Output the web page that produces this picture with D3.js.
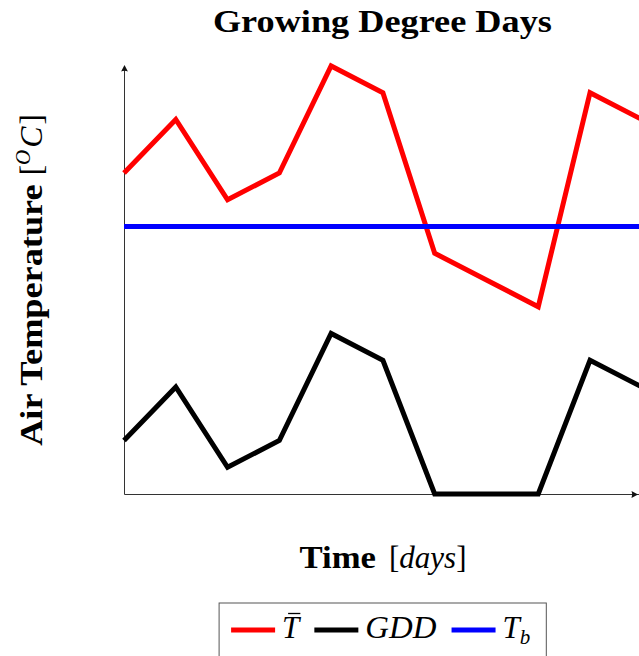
<!DOCTYPE html>
<html>
<head>
<meta charset="utf-8">
<script src="https://cdn.jsdelivr.net/npm/d3@7"></script>
<style>
  html, body { margin: 0; padding: 0; background: #fff; }
  svg { display: block; }
</style>
</head>
<body>
<script>
// Daily series (days 0..10)
const days     = [0, 1, 2, 3, 4, 5, 6, 7, 8, 9, 10];
const meanTemp = [12, 14, 11, 12, 16, 15, 9, 8, 7, 15, 14];  // mean air temperature
const gddDaily = [2, 4, 1, 2, 6, 5, 0, 0, 0, 5, 4];           // growing degree days
const baseTemp = 10;                                          // base temperature T_b
const tempDomain = [0, 16];

const SERIF = "'Liberation Serif', 'Times New Roman', serif";
const W = 639, H = 656;
const plot = { left: 124, right: 641.8, top: 66, bottom: 494 };
const axisColor = '#333';

const svg = d3.select('body').append('svg')
  .attr('width', W).attr('height', H)
  .attr('viewBox', `0 0 ${W} ${H}`);

const x = d3.scaleLinear().domain(d3.extent(days)).range([plot.left, plot.right]);
const y = d3.scaleLinear().domain(tempDomain).range([plot.bottom, plot.top]);

// Axis lines (no ticks) with arrow heads
svg.append('g')
  .attr('transform', `translate(0,${plot.bottom})`)
  .call(d3.axisBottom(x).tickValues([]).tickSizeOuter(0))
  .call(g => g.select('.domain').attr('stroke', axisColor).attr('stroke-width', 1));

svg.append('g')
  .attr('transform', `translate(${plot.left},0)`)
  .call(d3.axisLeft(y).tickValues([]).tickSizeOuter(0))
  .call(g => g.select('.domain').attr('stroke', axisColor).attr('stroke-width', 1));

const arrowHead = 'M0,0 L-3.4,6.5 Q0,4.8 3.4,6.5 Z';
svg.append('path')
  .attr('d', arrowHead)
  .attr('fill', '#111')
  .attr('transform', `translate(${plot.left + 0.5},${y.range()[1] - 1})`);
svg.append('path')
  .attr('d', arrowHead)
  .attr('fill', '#111')
  .attr('transform', `translate(638,${plot.bottom + 0.5}) rotate(90)`);

// Series lines
const lineGen = d3.line()
  .x((d, i) => x(days[i]))
  .y(d => y(d));

const series = [
  { key: 'mean', values: meanTemp, color: '#ff0000' },
  { key: 'gdd',  values: gddDaily, color: '#000000' },
  { key: 'base', values: days.map(() => baseTemp), color: '#0000ff' }
];

svg.append('g')
  .selectAll('path')
  .data(series)
  .join('path')
  .attr('d', d => lineGen(d.values))
  .attr('fill', 'none')
  .attr('stroke', d => d.color)
  .attr('stroke-width', 5)
  .attr('stroke-linejoin', 'miter')
  .attr('stroke-miterlimit', 10);

// Text built from pieces (bold / italic / raised / lowered), centred on (cx, cy)
function richText(parent, pieces, opts) {
  const g = parent.append('g');
  const inner = g.append('g');
  let cursor = 0;
  pieces.forEach(p => {
    const t = inner.append('text')
      .attr('x', 0)
      .attr('y', p.dy || 0)
      .attr('font-family', SERIF)
      .attr('font-size', p.size || 31)
      .attr('font-weight', p.bold ? 'bold' : 'normal')
      .attr('font-style', p.italic ? 'italic' : 'normal')
      .attr('fill', '#000')
      .text(p.text);
    const w = t.node().getComputedTextLength();
    const sx = p.sx || 1;
    t.attr('transform', `translate(${cursor},0) scale(${sx},1)`);
    cursor += w * sx + (p.after || 0);
  });
  inner.attr('transform', `translate(${-cursor / 2},0)`);
  g.attr('transform', `translate(${opts.x},${opts.y}) rotate(${opts.rotate || 0})`);
  return cursor;
}

const plotCenter = (plot.left + 639) / 2;

// Title
richText(svg, [
  { text: 'Growing Degree Days', bold: true, size: 31, sx: 1.17 }
], { x: plotCenter + 1, y: 32 });

// X label
richText(svg, [
  { text: 'Time', bold: true, size: 31, sx: 1.12, after: 13 },
  { text: '[', size: 31 },
  { text: 'days', italic: true, size: 31 },
  { text: ']', size: 31 }
], { x: plotCenter + 1.5, y: 568 });

// Y label
richText(svg, [
  { text: 'Air Temperature', bold: true, size: 31, sx: 1.17, after: 9 },
  { text: '[', size: 31 },
  { text: 'O', italic: true, size: 21, dy: -12, after: 2 },
  { text: 'C', italic: true, size: 31, sx: 1.03, after: 2 },
  { text: ']', size: 31 }
], { x: 42, y: (plot.top + plot.bottom) / 2, rotate: -90 });

// Legend
const legendEntries = [
  { key: 'mean', color: '#ff0000', label: [{ text: 'T', italic: true, bar: true }] },
  { key: 'gdd',  color: '#000000', label: [{ text: 'GDD', italic: true, sx: 1.06 }] },
  { key: 'base', color: '#0000ff', label: [{ text: 'T', italic: true }, { text: 'b', italic: true, size: 21, dy: 6 }] }
];

const legend = svg.append('g');
const legendInner = legend.append('g');
const lineLen = 44, gapLine = 7, gapEntry = 15, baseY = 638, lineY = 630;
let lx = 0;
legendEntries.forEach((e, idx) => {
  legendInner.append('line')
    .attr('x1', lx).attr('x2', lx + lineLen)
    .attr('y1', lineY).attr('y2', lineY)
    .attr('stroke', e.color).attr('stroke-width', 5);
  lx += lineLen + gapLine;
  e.label.forEach(p => {
    const size = p.size || 31;
    const t = legendInner.append('text')
      .attr('x', 0).attr('y', baseY + (p.dy || 0))
      .attr('font-family', SERIF)
      .attr('font-size', size)
      .attr('font-style', p.italic ? 'italic' : 'normal')
      .attr('fill', '#000')
      .text(p.text);
    const w = t.node().getComputedTextLength();
    const sx = p.sx || 1;
    t.attr('transform', `translate(${lx},0) scale(${sx},1)`);
    if (p.bar) {
      legendInner.append('line')
        .attr('x1', lx + 6).attr('x2', lx + w + 1)
        .attr('y1', baseY - 24.5).attr('y2', baseY - 24.5)
        .attr('stroke', '#000').attr('stroke-width', 1.3);
    }
    lx += w * sx;
  });
  if (idx < legendEntries.length - 1) lx += gapEntry;
});
const padL = 12, padR = 16;
const boxW = lx + padL + padR;
legendInner.insert('rect', ':first-child')
  .attr('x', -padL).attr('y', 603)
  .attr('width', boxW).attr('height', 62)
  .attr('fill', '#fff')
  .attr('stroke', '#555').attr('stroke-width', 1);
legend.attr('transform', `translate(${382.7 - boxW / 2 + padL},0)`);
</script>
</body>
</html>
